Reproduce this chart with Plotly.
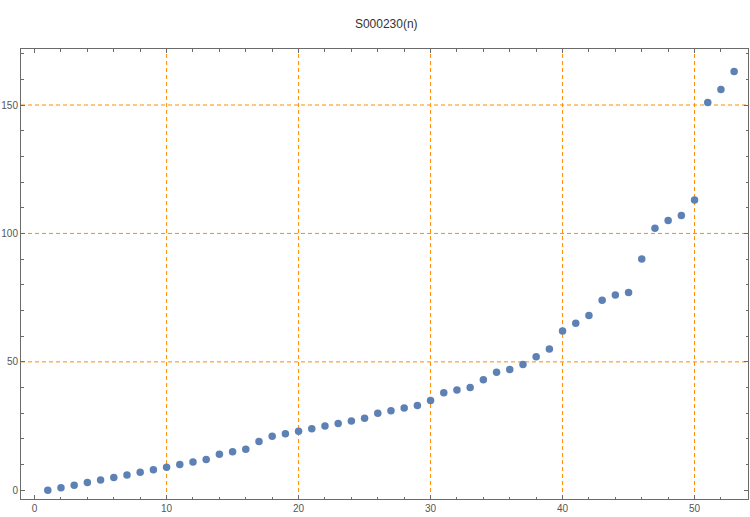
import plotly.graph_objects as go

n_values = list(range(1, 54))
s_values = [0, 1, 2, 3, 4, 5, 6, 7, 8, 9, 10, 11, 12, 14, 15, 16, 19, 21, 22, 23,
            24, 25, 26, 27, 28, 30, 31, 32, 33, 35, 38, 39, 40, 43, 46, 47, 49, 52, 55, 62,
            65, 68, 74, 76, 77, 90, 102, 105, 107, 113, 151, 156, 163]
x_grid = [10, 20, 30, 40, 50]
y_grid = [50, 100, 150]
x_ticks = [0, 10, 20, 30, 40, 50]
y_ticks = [0, 50, 100, 150]
title_text = "S000230(n)"

grid_color = "rgb(255,140,0)"
axis_color = "#6b6b6b"
label_font = dict(family="Liberation Sans, Arial, sans-serif", size=10, color="#555555")

fig = go.Figure()
fig.add_trace(go.Scatter(
    x=n_values, y=s_values, mode="markers",
    marker=dict(color="#5E81B5", size=7.5, line=dict(width=0)),
    showlegend=False, hoverinfo="x+y"))

for gx in x_grid:
    fig.add_shape(type="line", xref="x", yref="paper", x0=gx, x1=gx, y0=0, y1=1,
                  line=dict(color=grid_color, width=1, dash="4px,3px"), layer="below")
for gy in y_grid:
    fig.add_shape(type="line", xref="paper", yref="y", x0=0, x1=1, y0=gy, y1=gy,
                  line=dict(color=grid_color, width=1, dash="4px,3px"), layer="below")

fig.update_layout(
    width=750, height=517,
    margin=dict(l=21, r=2, t=49, b=18, autoexpand=False),
    paper_bgcolor="white", plot_bgcolor="white",
    title=dict(text=title_text, x=0.515, xanchor="center", y=1 - 24 / 517, yref="container",
               yanchor="middle", automargin=False,
               font=dict(family="Liberation Sans, Arial, sans-serif", size=12, color="#333333")),
    font=label_font,
)
fig.update_xaxes(
    range=[-1.03, 54.05], showgrid=False, zeroline=False, automargin=False,
    showline=True, linecolor=axis_color, linewidth=1, mirror="allticks",
    ticks="inside", ticklen=4, tickcolor=axis_color, tickwidth=1,
    tickmode="array", tickvals=x_ticks, ticktext=[str(v) for v in x_ticks],
    minor=dict(ticks="inside", ticklen=2.5, tickcolor=axis_color, dtick=2, tick0=0, showgrid=False),
    tickfont=label_font,
)
fig.update_yaxes(
    range=[-3.39, 171.8], showgrid=False, zeroline=False, automargin=False,
    showline=True, linecolor=axis_color, linewidth=1, mirror="allticks",
    ticks="inside", ticklen=4, tickcolor=axis_color, tickwidth=1,
    tickmode="array", tickvals=y_ticks, ticktext=[str(v) for v in y_ticks],
    minor=dict(ticks="inside", ticklen=2.5, tickcolor=axis_color, dtick=10, tick0=0, showgrid=False),
    tickfont=label_font,
)

fig.write_html("out.html", config={"displayModeBar": False},
               post_script="document.body.style.margin='0';document.body.style.overflow='hidden';")
